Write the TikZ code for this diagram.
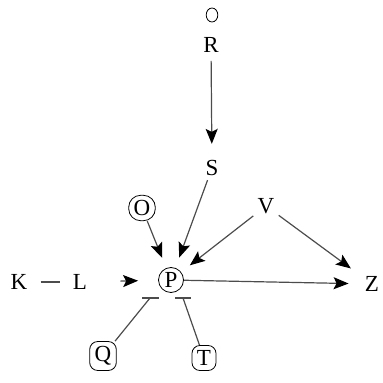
\documentclass[tikz,border=0pt]{standalone}
\usepackage{fontspec}
\setmainfont{Liberation Serif}
\usepackage{tikz}
\usetikzlibrary{arrows.meta,shapes.geometric}

\begin{document}
\begin{tikzpicture}[x=0.5pt, y=-0.5pt,
    every node/.style={font=\fontsize{11.5}{13}\selectfont, inner sep=2pt},
    boxed/.style={draw, rounded corners=4pt, inner sep=2.5pt, thin},
    ringed/.style={draw, circle, inner sep=0.5pt, minimum size=12.5pt, thin},
    edge/.style={draw=black!70, line width=0.6pt},
    act/.style={edge, -{Stealth[length=7.5pt, width=6pt, inset=1.5pt, black]}}]
      \useasboundingbox (0,0) rectangle (383,383);
      % Nodes
      \node[draw, ellipse, thin, inner sep=0pt, minimum width=5.8pt, minimum height=7pt] (top) at (212,15) {};
      \node (R) at (211,45) {R};
      \node (S) at (212,168) {S};
      \node[boxed, rounded corners=6pt] (O) at (142,208) {O};
      \node (V) at (266,206) {V};
      \node (K) at (19,282) {K};
      \node (L) at (80,282) {L};
      \node[ringed] (P) at (171,280) {P};
      \node (Z) at (372,284) {Z};
      \node[boxed] (Q) at (103,356) {Q};
      \node[boxed] (T) at (204,358) {T};
      % Bars below P
      \coordinate (pq) at (150,298);
      \coordinate (pt) at (183,298);
      % Arrows
      \draw[act, shorten <=2pt, shorten >=6pt] (R) -- (S);
      \draw[act, shorten >=5.5pt] (S) -- (P);
      \draw[act, shorten >=5.5pt] (O) -- (P);
      \draw[act, shorten >=5.5pt] (V) -- (P);
      \draw[act, shorten >=6pt] (V) -- (Z);
      \draw[act, shorten >=6pt] (P) -- (Z);
      \draw[act, shorten <=14.5pt, shorten >=10pt] (L) -- (P);
      \draw[edge, shorten <=4.5pt, shorten >=4.5pt] (K) -- (L);
      % Inhibition
      \draw[edge] (Q) -- (pq);
      \draw[edge] (T) -- (pt);
      \draw[edge] (pq) ++(-8,0) -- ++(17,0);
      \draw[edge] (pt) ++(-8,0) -- ++(16,0);
\end{tikzpicture}
\end{document}
